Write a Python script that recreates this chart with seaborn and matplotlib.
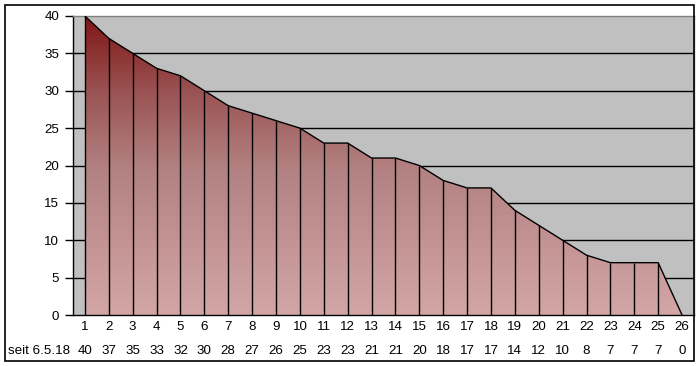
import numpy as np
import pandas as pd
import matplotlib
matplotlib.use("Agg")
import matplotlib.pyplot as plt
import seaborn as sns
from matplotlib.colors import LinearSegmentedColormap
from matplotlib.patches import Rectangle
import matplotlib.transforms as mtransforms

categories = list(range(1, 27))
values = [40, 37, 35, 33, 32, 30, 28, 27, 26, 25, 23, 23, 21, 21, 20, 18, 17, 17, 14, 12, 10, 8, 7, 7, 7, 0]
series_label = "seit 6.5.18"
y_ticks = [0, 5, 10, 15, 20, 25, 30, 35, 40]

sns.set_theme(style="white")
plt.rcParams["font.family"] = ["Liberation Sans", "DejaVu Sans"]
plt.rcParams["text.color"] = "black"
plt.rcParams["xtick.color"] = "black"
plt.rcParams["ytick.color"] = "black"
plt.rcParams["xtick.labelcolor"] = "black"
plt.rcParams["ytick.labelcolor"] = "black"

FS = 9.6

df = pd.DataFrame({"cat": categories, "val": values})

fig = plt.figure(figsize=(7.0, 3.66), dpi=100)
ax = fig.add_axes([73 / 700, 1 - 315 / 366, (694 - 73) / 700, (315 - 16) / 366])
ax.set_facecolor("#c0c0c0")

# horizontal grid
for yv in y_ticks[1:-1]:
    ax.axhline(yv, color="black", lw=1.0, zorder=1)

# gradient area
poly = ax.fill_between(df["cat"], 0, df["val"], color="none", lw=0, zorder=2)
cmap = LinearSegmentedColormap.from_list(
    "g", [(0.0, "#d4a6a6"), (0.5, "#b28080"), (0.75, "#9a5252"), (1.0, "#801616")])
grad = np.linspace(0, 1, 256).reshape(-1, 1)
im = ax.imshow(grad, cmap=cmap, aspect="auto", origin="lower",
               extent=[1, 26, 0, 40], zorder=2)
path = poly.get_paths()[0]
im.set_clip_path(path, transform=ax.transData)

# vertical drop lines
ax.vlines(df["cat"], 0, df["val"], color="black", lw=1.0, zorder=3)
# top edge
sns.lineplot(data=df, x="cat", y="val", color="black", lw=1.0, ax=ax, zorder=4)

ax.set_xlim(0.5, 26.5)
ax.set_ylim(0, 40)
ax.set_yticks(y_ticks)
ax.set_yticklabels([str(v) for v in y_ticks], fontsize=FS)
ax.set_xticks(categories)
ax.set_xticklabels([str(c) for c in categories], fontsize=FS)
ax.tick_params(axis="y", length=6, width=1, color="black", direction="out", pad=4, left=True)
ax.tick_params(axis="x", length=0, pad=4)
ax.set_xlabel("")
ax.set_ylabel("")

for side in ["top", "right"]:
    ax.spines[side].set_color("#808080")
    ax.spines[side].set_linewidth(1.0)
for side in ["left", "bottom"]:
    ax.spines[side].set_color("black")
    ax.spines[side].set_linewidth(1.0)

# data table row
trans = mtransforms.blended_transform_factory(ax.transData, fig.transFigure)
row_y = 1 - 351 / 366
for c, v in zip(categories, values):
    ax.text(c, row_y, str(v), transform=trans, ha="center", va="center", fontsize=FS)
fig.text(8 / 700, row_y, series_label, ha="left", va="center", fontsize=FS)

# outer frame
fig.patches.append(Rectangle((5 / 700, 1 - 361 / 366), (694 - 5) / 700, (361 - 5) / 366,
                             transform=fig.transFigure, fill=False, edgecolor="black",
                             lw=1.2, zorder=10))

fig.savefig("out.png", dpi=100)
